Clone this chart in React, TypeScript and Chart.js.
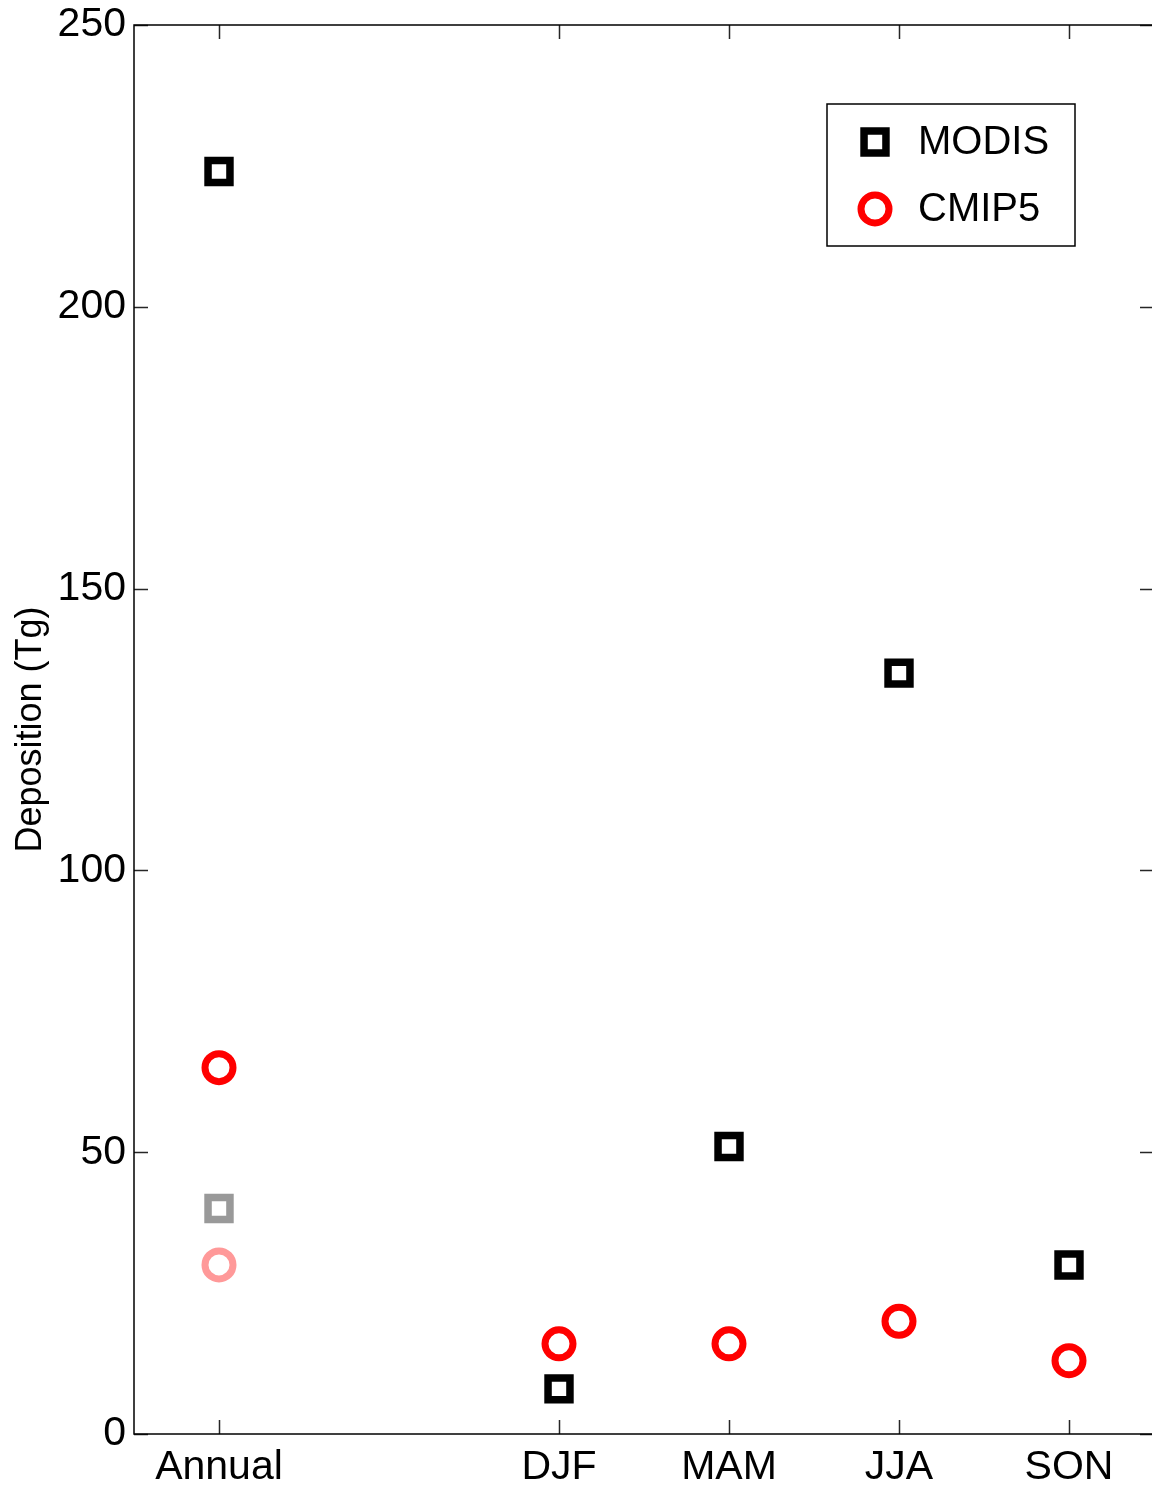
import React, { useEffect, useRef } from 'react';
import { Chart, registerables } from 'chart.js';

Chart.register(...registerables);

const categories = ['Annual', 'DJF', 'MAM', 'JJA', 'SON'];
const categoryX = [1, 3, 4, 5, 6];
const modisValues = [224, 8, 51, 135, 30];
const cmip5Values = [65, 16, 16, 20, 13];
const modisAltX = [1];
const modisAltValues = [40];
const cmip5AltX = [1];
const cmip5AltValues = [30];
const yTickValues = [0, 50, 100, 150, 200, 250];

const FONT = '"Liberation Sans", Arial, Helvetica, sans-serif';

const toPoints = (xs: number[], ys: number[]) => xs.map((x, i) => ({ x, y: ys[i] }));

const zeroPad = (s: any) => {
  s.paddingTop = 0;
  s.paddingBottom = 0;
  s.paddingLeft = 0;
  s.paddingRight = 0;
};

const framePlugin = {
  id: 'frameTicks',
  beforeDraw(chart: any) {
    const { ctx } = chart;
    ctx.save();
    ctx.fillStyle = '#ffffff';
    ctx.fillRect(0, 0, chart.width, chart.height);
    ctx.restore();
  },
  afterDraw(chart: any) {
    const { ctx, chartArea: a, scales } = chart;
    const xs = scales.x;
    const ys = scales.y;
    const tl = 14;
    ctx.save();
    ctx.lineWidth = 1.5;
    ctx.strokeStyle = '#262626';
    ys.ticks.forEach((t: any) => {
      const py = Math.round(ys.getPixelForValue(t.value)) + 0.5;
      ctx.beginPath();
      ctx.moveTo(a.left, py);
      ctx.lineTo(a.left + tl, py);
      ctx.moveTo(a.right, py);
      ctx.lineTo(a.right - tl, py);
      ctx.stroke();
    });
    xs.ticks.forEach((t: any) => {
      const px = Math.round(xs.getPixelForValue(t.value)) + 0.5;
      ctx.beginPath();
      ctx.moveTo(px, a.bottom);
      ctx.lineTo(px, a.bottom - tl);
      ctx.moveTo(px, a.top);
      ctx.lineTo(px, a.top + tl);
      ctx.stroke();
    });
    ctx.strokeStyle = '#000';
    ctx.strokeRect(a.left, a.top, a.right - a.left, a.bottom - a.top);

    // legend
    const bw = 248;
    const bh = 142;
    const bx = a.right - 79 - bw;
    const by = a.top + 79;
    ctx.fillStyle = '#fff';
    ctx.fillRect(bx, by, bw, bh);
    ctx.strokeStyle = '#000';
    ctx.lineWidth = 1.5;
    ctx.strokeRect(bx, by, bw, bh);
    const entries = chart.data.datasets.filter((d: any) => d.inLegend);
    entries.forEach((d: any, i: number) => {
      const cx = bx + 48;
      const cy = by + 38 + i * 67;
      ctx.strokeStyle = d.borderColor;
      ctx.lineWidth = d.borderWidth;
      ctx.beginPath();
      if (d.pointStyle === 'rect') {
        const s = Math.SQRT1_2 * d.pointRadius;
        ctx.rect(cx - s, cy - s, 2 * s, 2 * s);
      } else {
        ctx.arc(cx, cy, d.pointRadius, 0, Math.PI * 2);
      }
      ctx.stroke();
      ctx.fillStyle = '#000';
      ctx.font = `40px ${FONT}`;
      ctx.textAlign = 'left';
      ctx.textBaseline = 'middle';
      ctx.fillText(d.label, bx + 91, cy + 1);
    });
    ctx.restore();
  },
};

export default function App() {
  const ref = useRef<HTMLCanvasElement | null>(null);

  useEffect(() => {
    if (!ref.current) return;
    const chart = new Chart(ref.current, {
      type: 'scatter',
      data: {
        datasets: [
          {
            label: 'MODIS',
            inLegend: true,
            data: toPoints(categoryX, modisValues),
            pointStyle: 'rect',
            pointRadius: 15.5,
            borderWidth: 7.5,
            borderColor: '#000000',
            backgroundColor: 'rgba(0,0,0,0)',
          } as any,
          {
            label: 'CMIP5',
            inLegend: true,
            data: toPoints(categoryX, cmip5Values),
            pointStyle: 'circle',
            pointRadius: 14,
            borderWidth: 7,
            borderColor: '#ff0000',
            backgroundColor: 'rgba(0,0,0,0)',
          } as any,
          {
            label: 'MODIS (alt)',
            inLegend: false,
            data: toPoints(modisAltX, modisAltValues),
            pointStyle: 'rect',
            pointRadius: 15.5,
            borderWidth: 7.5,
            borderColor: '#999999',
            backgroundColor: 'rgba(0,0,0,0)',
          } as any,
          {
            label: 'CMIP5 (alt)',
            inLegend: false,
            data: toPoints(cmip5AltX, cmip5AltValues),
            pointStyle: 'circle',
            pointRadius: 14,
            borderWidth: 7,
            borderColor: '#ff9999',
            backgroundColor: 'rgba(0,0,0,0)',
          } as any,
        ],
      },
      options: {
        animation: false,
        responsive: false,
        devicePixelRatio: 1,
        layout: { autoPadding: false, padding: { top: 25, right: 6, left: 0, bottom: 0 } },
        plugins: {
          legend: { display: false },
          tooltip: { enabled: false },
        },
        scales: {
          x: {
            type: 'linear',
            min: 0.5,
            max: 6.5,
            grid: { display: false, drawTicks: false },
            border: { display: false },
            afterBuildTicks: (s: any) => {
              s.ticks = categoryX.map((v) => ({ value: v }));
            },
            afterFit: (s: any) => {
              s.height = 57;
              zeroPad(s);
            },
            ticks: {
              autoSkip: false,
              maxRotation: 0,
              minRotation: 0,
              padding: 9,
              color: '#000',
              font: { family: FONT, size: 41 },
              callback: (v: any) => {
                const i = categoryX.indexOf(Number(v));
                return i >= 0 ? categories[i] : '';
              },
            },
          },
          y: {
            type: 'linear',
            min: 0,
            max: 250,
            grid: { display: false, drawTicks: false },
            border: { display: false },
            afterBuildTicks: (s: any) => {
              s.ticks = yTickValues.map((v) => ({ value: v }));
            },
            afterFit: (s: any) => {
              s.width = 134;
              zeroPad(s);
            },
            title: {
              display: true,
              text: 'Deposition (Tg)',
              color: '#000',
              font: { family: FONT, size: 36 },
              padding: { top: 9, bottom: 0 },
            },
            ticks: {
              padding: 8,
              color: '#000',
              font: { family: FONT, size: 41 },
            },
          },
        },
      },
      plugins: [framePlugin],
    } as any);
    return () => chart.destroy();
  }, []);

  return (
    <div
      style={{
        position: 'fixed',
        left: 0,
        top: 0,
        width: 1152,
        height: 1491,
        overflow: 'hidden',
        background: '#fff',
      }}
    >
      <canvas
        ref={ref}
        width={1160}
        height={1491}
        style={{ display: 'block', width: 1160, height: 1491 }}
      />
    </div>
  );
}
